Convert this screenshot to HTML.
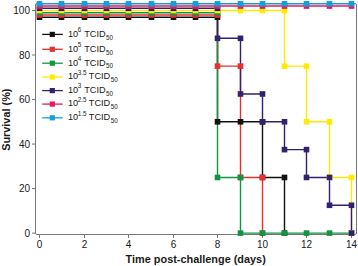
<!DOCTYPE html>
<html><head><meta charset="utf-8"><style>
html,body{margin:0;padding:0;background:#fff;}
svg{display:block;}
text{font-family:"Liberation Sans",sans-serif;fill:#1a1a1a;}
.t{font-size:10px;}
.l{font-size:9.2px;}
.s{font-size:6.3px;}
.b{font-size:10.9px;font-weight:bold;}
</style></head><body>
<svg width="358" height="266" viewBox="0 0 358 266">
<rect x="35.5" y="3.5" width="321" height="231" rx="1.5" fill="none" stroke="#777" stroke-width="1"/>
<line x1="32" y1="233.10" x2="35.5" y2="233.10" stroke="#777" stroke-width="1"/>
<text x="30.0" y="236.85" class="t" text-anchor="end">0</text>
<line x1="32" y1="188.58" x2="35.5" y2="188.58" stroke="#777" stroke-width="1"/>
<text x="30.0" y="192.33" class="t" text-anchor="end">20</text>
<line x1="32" y1="144.06" x2="35.5" y2="144.06" stroke="#777" stroke-width="1"/>
<text x="30.0" y="147.81" class="t" text-anchor="end">40</text>
<line x1="32" y1="99.54" x2="35.5" y2="99.54" stroke="#777" stroke-width="1"/>
<text x="30.0" y="103.29" class="t" text-anchor="end">60</text>
<line x1="32" y1="55.02" x2="35.5" y2="55.02" stroke="#777" stroke-width="1"/>
<text x="30.0" y="58.77" class="t" text-anchor="end">80</text>
<line x1="32" y1="10.50" x2="35.5" y2="10.50" stroke="#777" stroke-width="1"/>
<text x="30.0" y="14.25" class="t" text-anchor="end">100</text>
<line x1="39.50" y1="234.5" x2="39.50" y2="238" stroke="#777" stroke-width="1"/>
<text x="39.50" y="248.4" class="t" text-anchor="middle">0</text>
<line x1="84.50" y1="234.5" x2="84.50" y2="238" stroke="#777" stroke-width="1"/>
<text x="84.50" y="248.4" class="t" text-anchor="middle">2</text>
<line x1="128.50" y1="234.5" x2="128.50" y2="238" stroke="#777" stroke-width="1"/>
<text x="128.50" y="248.4" class="t" text-anchor="middle">4</text>
<line x1="173.50" y1="234.5" x2="173.50" y2="238" stroke="#777" stroke-width="1"/>
<text x="173.50" y="248.4" class="t" text-anchor="middle">6</text>
<line x1="217.50" y1="234.5" x2="217.50" y2="238" stroke="#777" stroke-width="1"/>
<text x="217.50" y="248.4" class="t" text-anchor="middle">8</text>
<line x1="262.50" y1="234.5" x2="262.50" y2="238" stroke="#777" stroke-width="1"/>
<text x="262.50" y="248.4" class="t" text-anchor="middle">10</text>
<line x1="306.50" y1="234.5" x2="306.50" y2="238" stroke="#777" stroke-width="1"/>
<text x="306.50" y="248.4" class="t" text-anchor="middle">12</text>
<line x1="351.50" y1="234.5" x2="351.50" y2="238" stroke="#777" stroke-width="1"/>
<text x="351.50" y="248.4" class="t" text-anchor="middle">14</text>
<path d="M39.50,17.18 L217.50,17.18 L217.50,121.80 L262.50,121.80 L262.50,177.45 L284.50,177.45 L284.50,233.10" fill="none" stroke="#111111" stroke-width="1.4"/>
<path d="M39.50,14.95 L217.50,14.95 L217.50,66.15 L240.50,66.15 L240.50,177.45 L262.50,177.45 L262.50,233.10" fill="none" stroke="#E8302C" stroke-width="1.4"/>
<path d="M39.50,12.73 L217.50,12.73 L217.50,177.45 L240.50,177.45 L240.50,233.10 L351.50,233.10" fill="none" stroke="#119443" stroke-width="1.4"/>
<path d="M39.50,10.50 L284.50,10.50 L284.50,66.15 L306.50,66.15 L306.50,121.80 L329.50,121.80 L329.50,177.45 L351.50,177.45 L351.50,233.10" fill="none" stroke="#FFEA00" stroke-width="1.4"/>
<path d="M39.50,8.27 L217.50,8.27 L217.50,38.32 L240.50,38.32 L240.50,93.97 L262.50,93.97 L262.50,121.80 L284.50,121.80 L284.50,149.62 L306.50,149.62 L306.50,177.45 L329.50,177.45 L329.50,205.28 L351.50,205.28 L351.50,233.10" fill="none" stroke="#33206F" stroke-width="1.4"/>
<path d="M39.50,6.05 L351.50,6.05" fill="none" stroke="#E41A5A" stroke-width="1.4"/>
<path d="M39.50,3.82 L351.50,3.82" fill="none" stroke="#12A0DC" stroke-width="1.4"/>
<rect x="36.70" y="14.38" width="5.6" height="5.6" fill="#111111"/>
<rect x="58.70" y="14.38" width="5.6" height="5.6" fill="#111111"/>
<rect x="81.70" y="14.38" width="5.6" height="5.6" fill="#111111"/>
<rect x="103.70" y="14.38" width="5.6" height="5.6" fill="#111111"/>
<rect x="125.70" y="14.38" width="5.6" height="5.6" fill="#111111"/>
<rect x="148.70" y="14.38" width="5.6" height="5.6" fill="#111111"/>
<rect x="170.70" y="14.38" width="5.6" height="5.6" fill="#111111"/>
<rect x="192.70" y="14.38" width="5.6" height="5.6" fill="#111111"/>
<rect x="214.70" y="14.38" width="5.6" height="5.6" fill="#111111"/>
<rect x="214.70" y="119.00" width="5.6" height="5.6" fill="#111111"/>
<rect x="237.70" y="119.00" width="5.6" height="5.6" fill="#111111"/>
<rect x="259.70" y="119.00" width="5.6" height="5.6" fill="#111111"/>
<rect x="259.70" y="174.65" width="5.6" height="5.6" fill="#111111"/>
<rect x="281.70" y="174.65" width="5.6" height="5.6" fill="#111111"/>
<rect x="281.70" y="230.30" width="5.6" height="5.6" fill="#111111"/>
<rect x="36.70" y="12.15" width="5.6" height="5.6" fill="#E8302C"/>
<rect x="58.70" y="12.15" width="5.6" height="5.6" fill="#E8302C"/>
<rect x="81.70" y="12.15" width="5.6" height="5.6" fill="#E8302C"/>
<rect x="103.70" y="12.15" width="5.6" height="5.6" fill="#E8302C"/>
<rect x="125.70" y="12.15" width="5.6" height="5.6" fill="#E8302C"/>
<rect x="148.70" y="12.15" width="5.6" height="5.6" fill="#E8302C"/>
<rect x="170.70" y="12.15" width="5.6" height="5.6" fill="#E8302C"/>
<rect x="192.70" y="12.15" width="5.6" height="5.6" fill="#E8302C"/>
<rect x="214.70" y="12.15" width="5.6" height="5.6" fill="#E8302C"/>
<rect x="214.70" y="63.35" width="5.6" height="5.6" fill="#E8302C"/>
<rect x="237.70" y="63.35" width="5.6" height="5.6" fill="#E8302C"/>
<rect x="237.70" y="174.65" width="5.6" height="5.6" fill="#E8302C"/>
<rect x="259.70" y="174.65" width="5.6" height="5.6" fill="#E8302C"/>
<rect x="259.70" y="230.30" width="5.6" height="5.6" fill="#E8302C"/>
<rect x="36.70" y="9.93" width="5.6" height="5.6" fill="#119443"/>
<rect x="58.70" y="9.93" width="5.6" height="5.6" fill="#119443"/>
<rect x="81.70" y="9.93" width="5.6" height="5.6" fill="#119443"/>
<rect x="103.70" y="9.93" width="5.6" height="5.6" fill="#119443"/>
<rect x="125.70" y="9.93" width="5.6" height="5.6" fill="#119443"/>
<rect x="148.70" y="9.93" width="5.6" height="5.6" fill="#119443"/>
<rect x="170.70" y="9.93" width="5.6" height="5.6" fill="#119443"/>
<rect x="192.70" y="9.93" width="5.6" height="5.6" fill="#119443"/>
<rect x="214.70" y="9.93" width="5.6" height="5.6" fill="#119443"/>
<rect x="214.70" y="174.65" width="5.6" height="5.6" fill="#119443"/>
<rect x="237.70" y="174.65" width="5.6" height="5.6" fill="#119443"/>
<rect x="237.70" y="230.30" width="5.6" height="5.6" fill="#119443"/>
<rect x="259.70" y="230.30" width="5.6" height="5.6" fill="#119443"/>
<rect x="281.70" y="230.30" width="5.6" height="5.6" fill="#119443"/>
<rect x="303.70" y="230.30" width="5.6" height="5.6" fill="#119443"/>
<rect x="326.70" y="230.30" width="5.6" height="5.6" fill="#119443"/>
<rect x="348.70" y="230.30" width="5.6" height="5.6" fill="#119443"/>
<rect x="36.70" y="7.70" width="5.6" height="5.6" fill="#FFEA00"/>
<rect x="58.70" y="7.70" width="5.6" height="5.6" fill="#FFEA00"/>
<rect x="81.70" y="7.70" width="5.6" height="5.6" fill="#FFEA00"/>
<rect x="103.70" y="7.70" width="5.6" height="5.6" fill="#FFEA00"/>
<rect x="125.70" y="7.70" width="5.6" height="5.6" fill="#FFEA00"/>
<rect x="148.70" y="7.70" width="5.6" height="5.6" fill="#FFEA00"/>
<rect x="170.70" y="7.70" width="5.6" height="5.6" fill="#FFEA00"/>
<rect x="192.70" y="7.70" width="5.6" height="5.6" fill="#FFEA00"/>
<rect x="214.70" y="7.70" width="5.6" height="5.6" fill="#FFEA00"/>
<rect x="237.70" y="7.70" width="5.6" height="5.6" fill="#FFEA00"/>
<rect x="259.70" y="7.70" width="5.6" height="5.6" fill="#FFEA00"/>
<rect x="281.70" y="7.70" width="5.6" height="5.6" fill="#FFEA00"/>
<rect x="281.70" y="63.35" width="5.6" height="5.6" fill="#FFEA00"/>
<rect x="303.70" y="63.35" width="5.6" height="5.6" fill="#FFEA00"/>
<rect x="303.70" y="119.00" width="5.6" height="5.6" fill="#FFEA00"/>
<rect x="326.70" y="119.00" width="5.6" height="5.6" fill="#FFEA00"/>
<rect x="326.70" y="174.65" width="5.6" height="5.6" fill="#FFEA00"/>
<rect x="348.70" y="174.65" width="5.6" height="5.6" fill="#FFEA00"/>
<rect x="348.70" y="230.30" width="5.6" height="5.6" fill="#FFEA00"/>
<rect x="36.70" y="5.47" width="5.6" height="5.6" fill="#33206F"/>
<rect x="58.70" y="5.47" width="5.6" height="5.6" fill="#33206F"/>
<rect x="81.70" y="5.47" width="5.6" height="5.6" fill="#33206F"/>
<rect x="103.70" y="5.47" width="5.6" height="5.6" fill="#33206F"/>
<rect x="125.70" y="5.47" width="5.6" height="5.6" fill="#33206F"/>
<rect x="148.70" y="5.47" width="5.6" height="5.6" fill="#33206F"/>
<rect x="170.70" y="5.47" width="5.6" height="5.6" fill="#33206F"/>
<rect x="192.70" y="5.47" width="5.6" height="5.6" fill="#33206F"/>
<rect x="214.70" y="5.47" width="5.6" height="5.6" fill="#33206F"/>
<rect x="214.70" y="35.52" width="5.6" height="5.6" fill="#33206F"/>
<rect x="237.70" y="35.52" width="5.6" height="5.6" fill="#33206F"/>
<rect x="237.70" y="91.17" width="5.6" height="5.6" fill="#33206F"/>
<rect x="259.70" y="91.17" width="5.6" height="5.6" fill="#33206F"/>
<rect x="259.70" y="119.00" width="5.6" height="5.6" fill="#33206F"/>
<rect x="281.70" y="119.00" width="5.6" height="5.6" fill="#33206F"/>
<rect x="281.70" y="146.82" width="5.6" height="5.6" fill="#33206F"/>
<rect x="303.70" y="146.82" width="5.6" height="5.6" fill="#33206F"/>
<rect x="303.70" y="174.65" width="5.6" height="5.6" fill="#33206F"/>
<rect x="326.70" y="174.65" width="5.6" height="5.6" fill="#33206F"/>
<rect x="326.70" y="202.47" width="5.6" height="5.6" fill="#33206F"/>
<rect x="348.70" y="202.47" width="5.6" height="5.6" fill="#33206F"/>
<rect x="348.70" y="230.30" width="5.6" height="5.6" fill="#33206F"/>
<rect x="36.70" y="3.25" width="5.6" height="5.6" fill="#E41A5A"/>
<rect x="58.70" y="3.25" width="5.6" height="5.6" fill="#E41A5A"/>
<rect x="81.70" y="3.25" width="5.6" height="5.6" fill="#E41A5A"/>
<rect x="103.70" y="3.25" width="5.6" height="5.6" fill="#E41A5A"/>
<rect x="125.70" y="3.25" width="5.6" height="5.6" fill="#E41A5A"/>
<rect x="148.70" y="3.25" width="5.6" height="5.6" fill="#E41A5A"/>
<rect x="170.70" y="3.25" width="5.6" height="5.6" fill="#E41A5A"/>
<rect x="192.70" y="3.25" width="5.6" height="5.6" fill="#E41A5A"/>
<rect x="214.70" y="3.25" width="5.6" height="5.6" fill="#E41A5A"/>
<rect x="237.70" y="3.25" width="5.6" height="5.6" fill="#E41A5A"/>
<rect x="259.70" y="3.25" width="5.6" height="5.6" fill="#E41A5A"/>
<rect x="281.70" y="3.25" width="5.6" height="5.6" fill="#E41A5A"/>
<rect x="303.70" y="3.25" width="5.6" height="5.6" fill="#E41A5A"/>
<rect x="326.70" y="3.25" width="5.6" height="5.6" fill="#E41A5A"/>
<rect x="348.70" y="3.25" width="5.6" height="5.6" fill="#E41A5A"/>
<rect x="36.70" y="1.02" width="5.6" height="5.6" fill="#12A0DC"/>
<rect x="58.70" y="1.02" width="5.6" height="5.6" fill="#12A0DC"/>
<rect x="81.70" y="1.02" width="5.6" height="5.6" fill="#12A0DC"/>
<rect x="103.70" y="1.02" width="5.6" height="5.6" fill="#12A0DC"/>
<rect x="125.70" y="1.02" width="5.6" height="5.6" fill="#12A0DC"/>
<rect x="148.70" y="1.02" width="5.6" height="5.6" fill="#12A0DC"/>
<rect x="170.70" y="1.02" width="5.6" height="5.6" fill="#12A0DC"/>
<rect x="192.70" y="1.02" width="5.6" height="5.6" fill="#12A0DC"/>
<rect x="214.70" y="1.02" width="5.6" height="5.6" fill="#12A0DC"/>
<rect x="237.70" y="1.02" width="5.6" height="5.6" fill="#12A0DC"/>
<rect x="259.70" y="1.02" width="5.6" height="5.6" fill="#12A0DC"/>
<rect x="281.70" y="1.02" width="5.6" height="5.6" fill="#12A0DC"/>
<rect x="303.70" y="1.02" width="5.6" height="5.6" fill="#12A0DC"/>
<rect x="326.70" y="1.02" width="5.6" height="5.6" fill="#12A0DC"/>
<rect x="348.70" y="1.02" width="5.6" height="5.6" fill="#12A0DC"/>
<line x1="42.2" y1="34.4" x2="62.8" y2="34.4" stroke="#111111" stroke-width="1.3"/>
<rect x="49.70" y="31.80" width="5.2" height="5.2" fill="#111111"/>
<text x="68.0" y="36.70" class="l">10</text>
<text x="77.8" y="32.20" class="s">6</text>
<text x="84.2" y="36.70" class="l">TCID<tspan class="s" dx="0.4" dy="2.9">50</tspan></text>
<line x1="42.2" y1="49.3" x2="62.8" y2="49.3" stroke="#E8302C" stroke-width="1.3"/>
<rect x="49.70" y="46.70" width="5.2" height="5.2" fill="#E8302C"/>
<text x="68.0" y="51.60" class="l">10</text>
<text x="77.8" y="47.10" class="s">5</text>
<text x="84.2" y="51.60" class="l">TCID<tspan class="s" dx="0.4" dy="2.9">50</tspan></text>
<line x1="42.2" y1="63.2" x2="62.8" y2="63.2" stroke="#119443" stroke-width="1.3"/>
<rect x="49.70" y="60.60" width="5.2" height="5.2" fill="#119443"/>
<text x="68.0" y="65.50" class="l">10</text>
<text x="77.8" y="61.00" class="s">4</text>
<text x="84.2" y="65.50" class="l">TCID<tspan class="s" dx="0.4" dy="2.9">50</tspan></text>
<line x1="42.2" y1="77.0" x2="62.8" y2="77.0" stroke="#FFEA00" stroke-width="1.3"/>
<rect x="49.70" y="74.40" width="5.2" height="5.2" fill="#FFEA00"/>
<text x="68.0" y="79.30" class="l">10</text>
<text x="77.8" y="74.80" class="s">3.5</text>
<text x="88.8" y="79.30" class="l">TCID<tspan class="s" dx="0.4" dy="2.9">50</tspan></text>
<line x1="42.2" y1="90.6" x2="62.8" y2="90.6" stroke="#33206F" stroke-width="1.3"/>
<rect x="49.70" y="88.00" width="5.2" height="5.2" fill="#33206F"/>
<text x="68.0" y="92.90" class="l">10</text>
<text x="77.8" y="88.40" class="s">3</text>
<text x="84.2" y="92.90" class="l">TCID<tspan class="s" dx="0.4" dy="2.9">50</tspan></text>
<line x1="42.2" y1="104.1" x2="62.8" y2="104.1" stroke="#E41A5A" stroke-width="1.3"/>
<rect x="49.70" y="101.50" width="5.2" height="5.2" fill="#E41A5A"/>
<text x="68.0" y="106.40" class="l">10</text>
<text x="77.8" y="101.90" class="s">2.5</text>
<text x="88.8" y="106.40" class="l">TCID<tspan class="s" dx="0.4" dy="2.9">50</tspan></text>
<line x1="42.2" y1="117.8" x2="62.8" y2="117.8" stroke="#12A0DC" stroke-width="1.3"/>
<rect x="49.70" y="115.20" width="5.2" height="5.2" fill="#12A0DC"/>
<text x="68.0" y="120.10" class="l">10</text>
<text x="77.8" y="115.60" class="s">1.5</text>
<text x="88.8" y="120.10" class="l">TCID<tspan class="s" dx="0.4" dy="2.9">50</tspan></text>
<text x="195.7" y="262.8" class="b" text-anchor="middle">Time post-challenge (days)</text>
<text transform="translate(9.8,119.7) rotate(-90)" class="b" text-anchor="middle">Survival (%)</text>
</svg>
</body></html>
